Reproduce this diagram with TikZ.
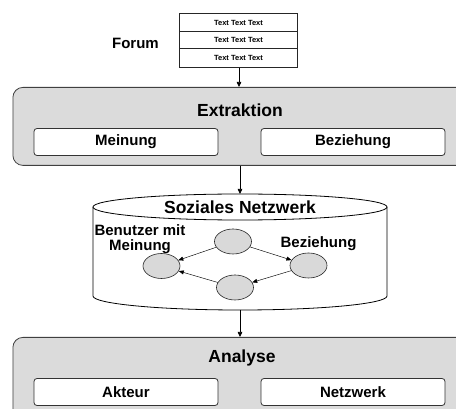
\documentclass[tikz,border=0pt]{standalone}
\usepackage{fontspec}
\setmainfont{Liberation Sans}
\usetikzlibrary{shapes.geometric,arrows.meta}
\begin{document}
\begin{tikzpicture}[x=1pt,y=-1pt,
  panel/.style={draw=black!75, fill=black!14, rounded corners=10pt, line width=0.8pt, inner sep=0pt, anchor=north west},
  inbox/.style={draw=black!80, fill=white, rounded corners=3pt, line width=0.8pt, minimum width=184pt, minimum height=27pt, inner sep=0pt, font=\fontsize{15}{17}\selectfont\bfseries},
  ttl/.style={font=\fontsize{17.5}{20}\selectfont\bfseries, inner sep=0pt},
  lbl/.style={font=\fontsize{15}{14.5}\selectfont\bfseries, inner sep=0pt, align=center},
  rowbox/.style={draw=black!85, line width=0.7pt, minimum width=118.4pt, inner sep=0pt, font=\fontsize{7.5}{9}\selectfont\bfseries},
  conn/.style={-{Triangle[length=5pt,width=4.5pt]}, line width=0.7pt},
  dot/.style={ellipse, draw=black!85, fill=black!15, line width=0.6pt, minimum width=37pt, minimum height=25pt, inner sep=0pt},
  link/.style={-{Triangle[length=5pt,width=4pt]}, line width=0.45pt}]
\useasboundingbox (0,0) rectangle (456,409);
% Forum
\node[rowbox, minimum height=18.4pt] (f1) at (238.5,22.5) {Text Text Text};
\node[rowbox, minimum height=16.6pt] (f2) at (238.5,40) {Text Text Text};
\node[rowbox, minimum height=19pt] (f3) at (238.5,57.8) {Text Text Text};
\node[lbl] (forum) at (135.5,43) {Forum};
% Extraktion
\node[panel, minimum width=460pt, minimum height=78pt] (extr) at (12.5,87) {};
\node[ttl] (extrt) at (240,110) {Extraktion};
\node[inbox] (mein) at (126,142) {Meinung};
\node[inbox] (bez) at (353,142) {Beziehung};
\draw[conn] (f3.south -| 239,0) -- (239,87);
% Cylinder
\coordinate (cyltop) at (240,194);
\coordinate (cylbot) at (240,310);
\draw[line width=0.8pt, fill=white] (93,207) -- (93,296) arc[start angle=180,end angle=360,x radius=147pt,y radius=14pt] -- (387,207);
\draw[line width=0.8pt, fill=white] (240,207) ellipse[x radius=147pt, y radius=13pt];
\draw[conn] (cyltop |- extr.south) -- (cyltop);
\node[ttl] (soz) at (240,207) {Soziales Netzwerk};
\node[dot] (ct) at (233,241.5) {};
\node[dot] (cl) at (161.5,266) {};
\node[dot] (cr) at (308.5,265.5) {};
\node[dot] (cb) at (235,287.5) {};
\draw[link] (ct) -- (cl);
\draw[link] (ct) -- (cr);
\draw[link] (cr) -- (cb);
\draw[link] (cb) -- (cl);
\node[lbl] (ben) at (140,239) {Benutzer mit\\Meinung};
\node[lbl] (bezl) at (318.5,244) {Beziehung};
% Analyse
\node[panel, minimum width=460pt, minimum height=100pt] (anal) at (12.5,337) {};
\node[ttl] (analt) at (242,358) {Analyse};
\node[inbox] (akt) at (126,392) {Akteur};
\node[inbox] (netz) at (353,392) {Netzwerk};
\draw[conn] (cylbot) -- (cylbot |- anal.north);
\end{tikzpicture}
\end{document}
